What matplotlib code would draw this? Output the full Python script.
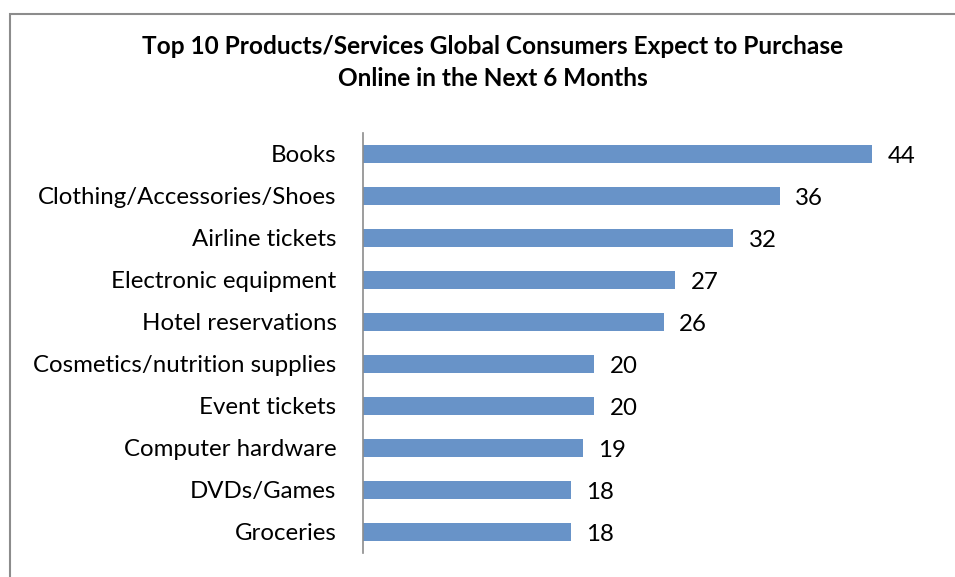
import numpy as np
import matplotlib.pyplot as plt
from matplotlib.patches import Rectangle

categories = ['Books', 'Clothing/Accessories/Shoes', 'Airline tickets',
              'Electronic equipment', 'Hotel reservations',
              'Cosmetics/nutrition supplies', 'Event tickets',
              'Computer hardware', 'DVDs/Games', 'Groceries']
values = [44, 36, 32, 27, 26, 20, 20, 19, 18, 18]

plt.rcParams['font.family'] = ['Lato', 'DejaVu Sans']

fig = plt.figure(figsize=(9.55, 5.77), dpi=100)
ax = fig.add_axes([0.380, 0.0416, 0.606, 0.728])

ypos = np.arange(len(categories))
ax.barh(ypos, values, height=0.43, color='#6893c8')
ax.set_yticks(ypos)
ax.set_yticklabels(categories, fontsize=17.3)
ax.set_ylim(len(categories) - 0.5, -0.5)
ax.set_xlim(0, 50)

for y, v in zip(ypos, values):
    ax.annotate(str(v), (v, y), xytext=(11, -2), textcoords='offset points',
                ha='left', va='center', fontsize=17.3)

ax.set_xticks([])
ax.tick_params(axis='y', length=0, pad=19)
for side in ['top', 'right', 'bottom']:
    ax.spines[side].set_visible(False)
ax.spines['left'].set_color('#8c8c8c')
ax.spines['left'].set_linewidth(1.2)

# chart frame
fig.patches.append(Rectangle((10 / 955, -0.2), 1.2, 1.2 - 14 / 577,
                             transform=fig.transFigure, fill=False,
                             edgecolor='#8c8c8c', linewidth=1.5))

fig.text(0.516, 1 - 47 / 577, 'Top 10 Products/Services Global Consumers Expect to Purchase',
         ha='center', va='center', fontsize=17.6, fontweight='bold')
fig.text(0.516, 1 - 79 / 577, 'Online in the Next 6 Months',
         ha='center', va='center', fontsize=17.6, fontweight='bold')

plt.savefig('out.png', dpi=100)
